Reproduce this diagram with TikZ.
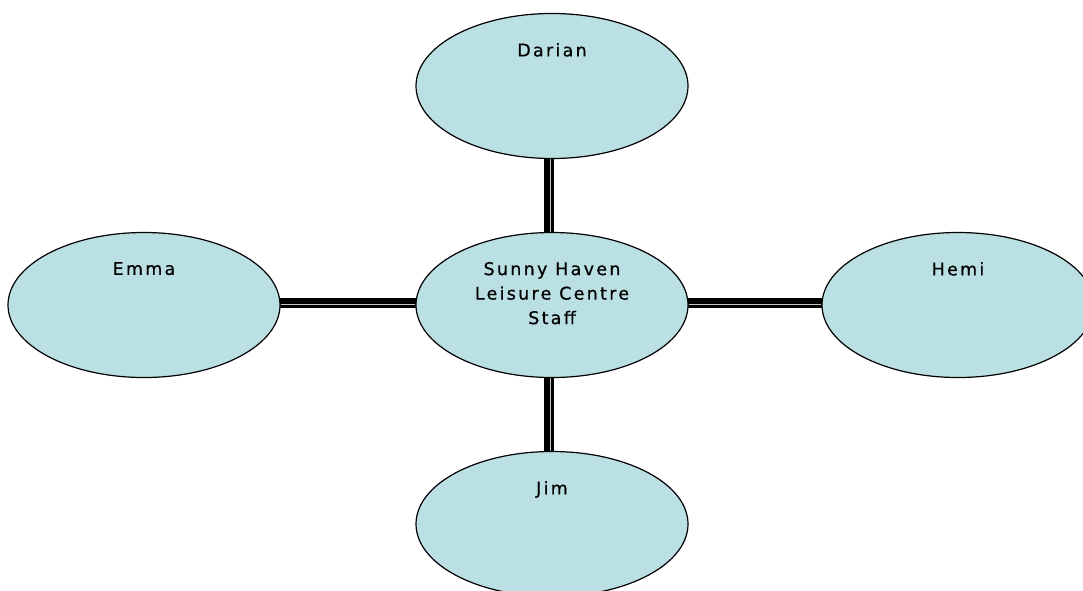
\documentclass[tikz,border=0pt]{standalone}
\usepackage{fontspec}
\setmainfont{DejaVu Sans}[LetterSpace=13,FakeBold=0.6]
\usetikzlibrary{shapes.geometric,backgrounds}
\definecolor{bubblefill}{HTML}{BBE0E3}
\begin{document}
\begin{tikzpicture}[x=1pt,y=-1pt,
  bubble/.style={ellipse, draw=black, line width=1.2pt, fill=bubblefill,
    minimum width=272pt, minimum height=145pt, inner sep=0pt},
  caption/.style={anchor=north, inner sep=0pt, yshift=-30pt,
    font=\fontsize{17.5}{24.5}\selectfont, align=center, text=black},
  conn/.style={line width=10pt, draw=black},
  gapline/.style={line width=0.9pt, draw=gray!45}]
\useasboundingbox (0,0) rectangle (1083,590);
\node[bubble, label={[caption]north:Darian}] (dar) at (552,86) {};
\node[bubble, label={[caption]north:Sunny Haven\\Leisure Centre\\Staff}] (ctr) at (552,305) {};
\node[bubble, label={[caption]north:Emma}] (emm) at (144,305) {};
\node[bubble, label={[caption]north:Hemi}] (hem) at (958,305) {};
\node[bubble, label={[caption]north:Jim}] (jim) at (552,524) {};
\begin{scope}[on background layer]
  \draw[conn] ([xshift=-3.5pt]dar.center) -- ([xshift=-3.5pt]ctr.center);
  \draw[gapline] ([xshift=-2pt]dar.south) -- ([xshift=-2pt]ctr.north);
  \draw[conn] ([xshift=-3.5pt]ctr.center) -- ([xshift=-3.5pt]jim.center);
  \draw[gapline] ([xshift=-2pt]ctr.south) -- ([xshift=-2pt]jim.north);
  \draw[conn] ([yshift=2pt]emm.center) -- ([yshift=2pt]ctr.center);
  \draw[gapline] ([yshift=1pt]emm.east) -- ([yshift=1pt]ctr.west);
  \draw[conn] ([yshift=2pt]ctr.center) -- ([yshift=2pt]hem.center);
  \draw[gapline] ([yshift=1pt]ctr.east) -- ([yshift=1pt]hem.west);
\end{scope}
\end{tikzpicture}
\end{document}
